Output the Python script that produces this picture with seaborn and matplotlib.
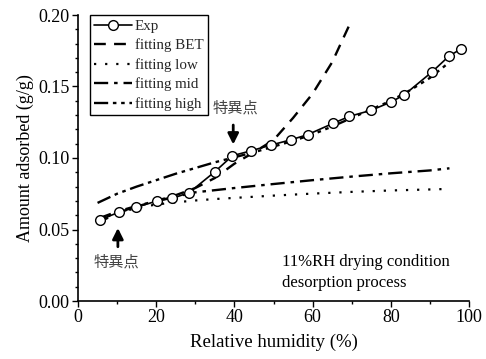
import numpy as np
import pandas as pd
import matplotlib
matplotlib.use("Agg")
import matplotlib.pyplot as plt
from matplotlib.ticker import MultipleLocator, FormatStrFormatter
import seaborn as sns

# ---- data ----
exp_x = [5.5, 10.4, 14.8, 20.3, 24.1, 28.4, 35.0, 39.5, 44.2, 49.3,
         54.4, 58.7, 65.3, 69.4, 74.9, 80.1, 83.5, 90.5, 94.9, 97.9]
exp_y = [0.0567, 0.0620, 0.0655, 0.0700, 0.0718, 0.0757, 0.0904, 0.1016, 0.1050, 0.1090,
         0.1127, 0.1163, 0.1243, 0.1291, 0.1333, 0.1392, 0.1443, 0.1601, 0.1713, 0.1762]

bet_x = [5, 10, 15, 20, 25, 30, 35, 40, 45, 50, 55, 60, 65, 70]
bet_y = [0.0545, 0.0615, 0.0660, 0.0700, 0.0740, 0.0790, 0.0860, 0.0960, 0.1040, 0.1125,
         0.1280, 0.1450, 0.1670, 0.1965]

low_x = [5, 10, 15, 20, 25, 30, 35, 40, 50, 60, 70, 80, 90, 95]
low_y = [0.0565, 0.0615, 0.0650, 0.0675, 0.0690, 0.0703, 0.0713, 0.0721, 0.0737, 0.0751,
         0.0763, 0.0773, 0.0780, 0.0784]

mid_x = [5, 10, 15, 20, 25, 30, 40, 50, 60, 70, 80, 90, 95]
mid_y = [0.0575, 0.0625, 0.0665, 0.0700, 0.0730, 0.0760, 0.0790, 0.0818, 0.0845, 0.0870,
         0.0893, 0.0913, 0.0928]

high_x = [5, 10, 15, 20, 25, 30, 35, 40, 45, 50, 55, 60, 65, 70, 75, 80, 85, 90, 95]
high_y = [0.0686, 0.0750, 0.0800, 0.0845, 0.0890, 0.0930, 0.0970, 0.1005, 0.1040, 0.1080,
          0.1120, 0.1165, 0.1220, 0.1280, 0.1340, 0.1400, 0.1475, 0.1560, 0.1670]

labels = ["Exp", "fitting BET", "fitting low", "fitting mid", "fitting high"]

# ---- style ----
sns.set_theme(style="ticks")
plt.rcParams["font.family"] = ["Liberation Serif", "DejaVu Serif"]
plt.rcParams["mathtext.fontset"] = "stix"

fig = plt.figure(figsize=(4.86, 3.59), dpi=100)
ax = fig.add_axes([78/486, 1 - 301/359, (469 - 78)/486, (301 - 15)/359])

sns.lineplot(x=exp_x, y=exp_y, ax=ax, color="black", lw=1.2, marker="o",
             markersize=7, markerfacecolor="white", markeredgecolor="black",
             markeredgewidth=1.0, label=labels[0], zorder=5)
sns.lineplot(x=bet_x, y=bet_y, ax=ax, color="black", lw=1.7,
             linestyle=(0, (5, 3.5)), label=labels[1])
sns.lineplot(x=low_x, y=low_y, ax=ax, color="black", lw=1.6,
             linestyle=(0, (1, 4)), label=labels[2])
sns.lineplot(x=mid_x, y=mid_y, ax=ax, color="black", lw=1.7,
             linestyle=(0, (6, 2.5, 1.5, 2.5)), label=labels[3])
sns.lineplot(x=high_x, y=high_y, ax=ax, color="black", lw=1.7,
             linestyle=(0, (6, 2, 1.5, 2, 1.5, 2)), label=labels[4])

ax.set_xlim(0, 100)
ax.set_ylim(0, 0.20)
ax.xaxis.set_major_locator(MultipleLocator(20))
ax.xaxis.set_minor_locator(MultipleLocator(10))
ax.yaxis.set_major_locator(MultipleLocator(0.05))
ax.yaxis.set_minor_locator(MultipleLocator(0.01))
ax.yaxis.set_major_formatter(FormatStrFormatter("%.2f"))
ax.tick_params(axis="both", which="major", direction="out", length=4, width=1,
               labelsize=13, colors="black", pad=2)
ax.tick_params(axis="both", which="minor", direction="out", length=2.5, width=1,
               colors="black")
sns.despine(ax=ax)
for s in ["left", "bottom"]:
    ax.spines[s].set_color("black")
    ax.spines[s].set_linewidth(1.2)

ax.set_xlabel("Relative humidity (%)", fontsize=13.5, color="black", labelpad=5)
ax.set_ylabel("Amount adsorbed (g/g)", fontsize=13, color="black", labelpad=3)

leg = ax.legend(loc="upper left", bbox_to_anchor=(0.03, 1.0), fontsize=10.8,
                frameon=True, fancybox=False, edgecolor="black", framealpha=1,
                handlelength=2.5, labelspacing=0.38, borderpad=0.3,
                handletextpad=0.2, borderaxespad=0)
leg.get_frame().set_linewidth(1.0)

cjk = ["Noto Sans CJK JP", "DejaVu Sans"]
ax.annotate("", xy=(10.2, 0.053), xytext=(10.2, 0.036),
            arrowprops=dict(arrowstyle="-|>", color="black", lw=2, mutation_scale=16))
ax.text(9.8, 0.0273, "特異点", family=cjk, fontsize=11, color="#444444",
        ha="center", va="center")
ax.annotate("", xy=(39.7, 0.1075), xytext=(39.7, 0.125),
            arrowprops=dict(arrowstyle="-|>", color="black", lw=2, mutation_scale=16))
ax.text(40.3, 0.135, "特異点", family=cjk, fontsize=11, color="#444444",
        ha="center", va="center")

ax.text(52.1, 0.0275, "11%RH drying condition", fontsize=12, color="black",
        ha="left", va="center")
ax.text(52.1, 0.0124, "desorption process", fontsize=12, color="black",
        ha="left", va="center")

fig.savefig("out.png", dpi=100)
